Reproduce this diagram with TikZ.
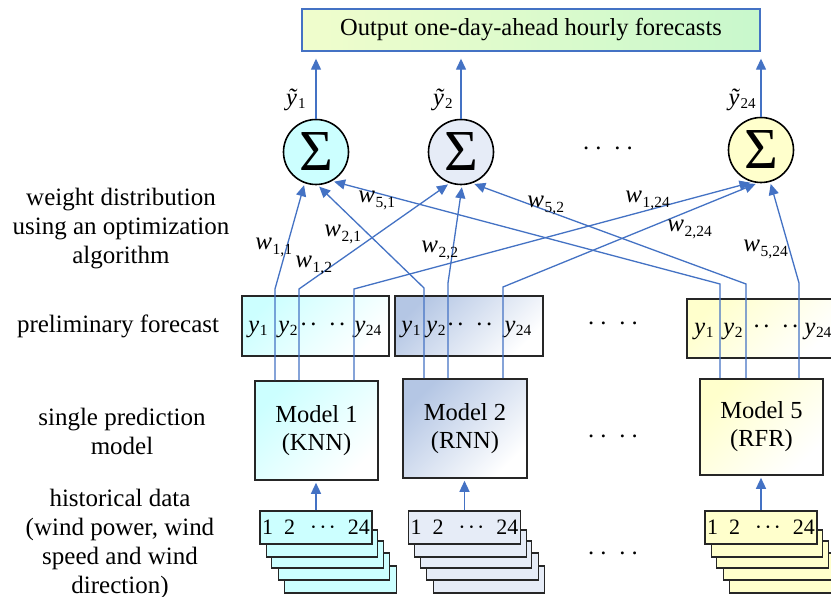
\documentclass[tikz,border=0pt]{standalone}
\usepackage{fontspec}
\setmainfont{Liberation Serif}
\usetikzlibrary{arrows.meta}
\definecolor{lineblue}{RGB}{68,114,196}
\definecolor{cyanf}{RGB}{204,255,255}
\definecolor{lavf}{RGB}{230,236,247}
\definecolor{yelf}{RGB}{255,255,204}
\definecolor{blueg}{RGB}{180,198,228}
\definecolor{outyel}{RGB}{240,253,204}
\definecolor{outgrn}{RGB}{200,248,204}
\newcommand\yy[1]{\textit{y}\kern0.3pt\raisebox{-0.12em}{\fontsize{7.75}{7.75}\selectfont #1}}
\newcommand\ww[1]{\textit{w}\kern0.3pt\raisebox{-0.2em}{\fontsize{7.75}{7.75}\selectfont #1}}
\newcommand\yt[1]{\textit{ỹ}\kern0.3pt\raisebox{-0.12em}{\fontsize{7.5}{7.5}\selectfont #1}}
\newcommand\dotpair{\textperiodcentered\kern2pt\textperiodcentered}
\newcommand\gapdots{\dotpair\kern5.5pt\dotpair}
\newcommand\boxdots{\textperiodcentered\kern0.8pt\textperiodcentered\kern5.5pt\textperiodcentered\kern0.8pt\textperiodcentered}
\newcommand\tridots{\textperiodcentered\kern1pt\textperiodcentered\kern1pt\textperiodcentered}
\newcommand\cardtext{1\hspace{5.5pt}2\hspace{7.5pt}\tridots\hspace{6pt}24}
\begin{document}
\begin{tikzpicture}[x=0.5pt,y=-0.5pt,
  conn/.style={draw=lineblue, line width=0.65pt, -{Triangle[length=5.5pt,width=5pt]}},
  sig/.style={circle, draw=black, line width=0.8pt, minimum size=32.5pt, inner sep=0pt, font=\fontsize{29}{29}\selectfont},
  box/.style={draw=black!85, line width=0.8pt, inner sep=0pt},
  card/.style={draw=black!85, line width=0.6pt, minimum width=55.75pt, minimum height=13.5pt, inner sep=0pt},
  topcard/.style={card, minimum width=56pt, minimum height=16.5pt, font=\fontsize{11}{13}\selectfont},
  lbl/.style={align=center, font=\fontsize{12.5}{14.5}\selectfont, inner sep=0pt},
  txt/.style={font=\fontsize{12.25}{14}\selectfont},
  ytxt/.style={font=\fontsize{12.25}{14}\selectfont, inner sep=0pt, anchor=base},
  wl/.style={font=\fontsize{12.5}{14}\selectfont, inner sep=0pt, anchor=base west},
  gshade/.style={top color=#1, bottom color=white, shading angle=45},
]
\clip (0,0) rectangle (831,597);
\fill[white] (0,0) rectangle (831,597);

% output box
\node[draw=lineblue, line width=0.7pt, minimum width=229pt, minimum height=21pt,
      left color=outyel, right color=outgrn, txt] (out) at (531,30) {Output one-day-ahead hourly forecasts};

% sigma nodes
\node[sig, fill=cyanf] (s1) at (316,152) {Σ};
\node[sig, fill=lavf] (s2) at (461,152) {Σ};
\node[sig, fill=yelf] (s3) at (761,150) {Σ};
\node[txt, inner sep=0pt] (d1) at (608,152) {\gapdots};

\draw[conn, shorten >=3.5pt] (s1.north) -- (s1.north |- out.south);
\draw[conn, shorten >=3.5pt] (s2.north) -- (s2.north |- out.south);
\draw[conn, shorten >=3.5pt] (s3.north) -- (s3.north |- out.south);
\node[txt, inner sep=0pt, anchor=east] (yt1) at (306,100) {\yt{1}};
\node[txt, inner sep=0pt, anchor=east] (yt2) at (453,100) {\yt{2}};
\node[txt, inner sep=0pt, anchor=east] (yt3) at (756,100) {\yt{24}};

% preliminary forecast boxes
\node[box, minimum width=73.5pt, minimum height=30pt, gshade=cyanf] (f1) at (315.5,326) {};
\node[box, minimum width=74pt, minimum height=30pt, gshade=blueg] (f2) at (469,326) {};
\node[box, minimum width=74pt, minimum height=29.5pt, gshade=yelf] (f3) at (761,328.5) {};
\node[ytxt] (f1a) at (258,333) {\yy{1}};
\node[ytxt] (f1b) at (288,333) {\yy{2}};
\node[ytxt] (f1c) at (323,333) {\boxdots};
\node[ytxt] (f1d) at (368,333) {\yy{24}};
\node[ytxt] (f2a) at (411,333) {\yy{1}};
\node[ytxt] (f2b) at (436,333) {\yy{2}};
\node[ytxt] (f2c) at (470,333) {\boxdots};
\node[ytxt] (f2d) at (518,333) {\yy{24}};
\node[ytxt] (f3a) at (704,335) {\yy{1}};
\node[ytxt] (f3b) at (733,335) {\yy{2}};
\node[ytxt] (f3c) at (776,335) {\boxdots};
\node[ytxt] (f3d) at (818,335) {\yy{24}};
\node[txt, inner sep=0pt] (d2) at (613,327) {\gapdots};

% model boxes
\node[box, minimum width=61.5pt, minimum height=49.5pt, gshade=cyanf, align=center, txt] (m1) at (316.5,430.5) {Model 1\\(KNN)};
\node[box, minimum width=62pt, minimum height=49.5pt, gshade=blueg, align=center, txt] (m2) at (465,428.5) {Model 2\\(RNN)};
\node[box, minimum width=61.5pt, minimum height=48pt, gshade=yelf, align=center, txt] (m5) at (761.5,427) {Model 5\\(RFR)};
\node[txt, inner sep=0pt] (d3) at (613,440) {\gapdots};

% historical data stacks
\foreach \cx/\col/\nm in {316/cyanf/a, 464.5/lavf/b, 761/yelf/c}{
  \node[card, fill=\col] (\nm4) at (\cx+24.5,579.5) {};
  \node[card, fill=\col] (\nm3) at (\cx+18,566.5) {};
  \node[card, fill=\col] (\nm2) at (\cx+11.5,554.5) {};
  \node[card, fill=\col] (\nm1) at (\cx+6,543.5) {};
}
\node[topcard, fill=cyanf] (h1) at (316,527.5) {\cardtext};
\node[topcard, fill=lavf] (h2) at (464.5,527.5) {\cardtext};
\node[topcard, fill=yelf] (h3) at (761,527.5) {\cardtext};
\node[txt, inner sep=0pt] (d4) at (613,557) {\gapdots};

\draw[conn, shorten >=1pt] (h1.north) -- (h1.north |- m1.south);
\draw[conn, shorten >=1pt] (h2.north) -- (h2.north |- m2.south);
\draw[conn, shorten >=1pt] (h3.north) -- (h3.north |- m5.south);

% weighted connections
\coordinate (k11) at (275,289);
\coordinate (k12) at (299,289);
\coordinate (k124) at (354,289);
\coordinate (k21) at (424,288);
\coordinate (k22) at (448,283);
\coordinate (k224) at (503,287);
\coordinate (k51) at (720,284);
\coordinate (k52) at (746,284);
\coordinate (k524) at (799,283);
\draw[conn, shorten >=1pt] (m1.north -| k11) -- (k11) -- (s1.250);
\draw[conn, shorten >=1pt] (m1.north -| k12) -- (k12) -- (s2.250);
\draw[conn, shorten >=1pt] (m1.north -| k124) -- (k124) -- (s3.255);
\draw[conn, shorten >=1pt] (m2.north -| k21) -- (k21) -- (s1.273);
\draw[conn, shorten >=1pt] (m2.north -| k22) -- (k22) -- (s2.272);
\draw[conn, shorten >=1pt] (m2.north -| k224) -- (k224) -- (s3.264);
\draw[conn, shorten >=1pt] (m5.north -| k51) -- (k51) -- (s1.299);
\draw[conn, shorten >=1pt] (m5.north -| k52) -- (k52) -- (s2.290);
\draw[conn, shorten >=1pt] (m5.north -| k524) -- (k524) -- (s3.286);

\node[wl] (w11) at (255,250) {\ww{1,1}};
\node[wl] (w21) at (324,237) {\ww{2,1}};
\node[wl] (w51) at (358,203) {\ww{5,1}};
\node[wl] (w12) at (295,268) {\ww{1,2}};
\node[wl] (w22) at (421,253) {\ww{2,2}};
\node[wl] (w52) at (527,208) {\ww{5,2}};
\node[wl] (w124) at (625,203) {\ww{1,24}};
\node[wl] (w224) at (667,232) {\ww{2,24}};
\node[wl] (w524) at (743,252) {\ww{5,24}};

% left labels
\node[lbl] (L1) at (121,229) {weight distribution\\using an optimization\\algorithm};
\node[lbl] (L2) at (118,326) {preliminary forecast};
\node[lbl] (L3) at (122,431) {single prediction\\model};
\node[lbl] (L4) at (120,544) {historical data\\(wind power, wind\\speed and wind\\direction)};
\end{tikzpicture}
\end{document}
